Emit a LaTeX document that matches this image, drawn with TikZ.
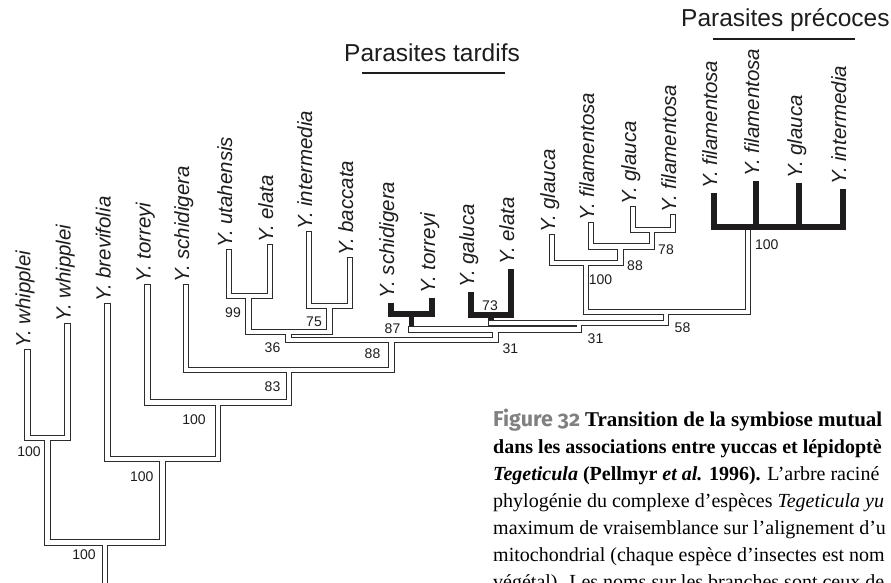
\documentclass[tikz,border=0pt]{standalone}
\usepackage{fontspec}
\setmainfont{Liberation Serif}
\newfontfamily\lsans{Liberation Sans}
\newfontfamily\figfont{Fira Sans}[Numbers=OldStyle]
\usetikzlibrary{calc}
\definecolor{ink}{RGB}{30,28,28}
\definecolor{treeink}{RGB}{45,43,43}
\definecolor{figgray}{RGB}{128,128,128}
\begin{document}
\begin{tikzpicture}[x=1pt,y=-1pt,
  br/.style={draw=treeink, line width=1.05pt, double=white, double distance=4.2pt, line cap=rect, line join=miter},
  blk/.style={draw=ink, line width=5.5pt, line cap=butt, line join=miter},
  leaf/.style={rotate=90, anchor=base west, inner sep=0pt, text=ink, font=\lsans\itshape\fontsize{20.5}{24}\selectfont},
  bs/.style={inner sep=0pt, text=ink, font=\lsans\fontsize{14}{16}\selectfont},
  head/.style={anchor=base west, inner sep=0pt, text=ink, font=\lsans\fontsize{24.5}{28}\selectfont},
  capline/.style={anchor=base west, inner sep=0pt, text=black, font=\fontsize{20}{27}\selectfont}
]
\useasboundingbox (0,0) rectangle (891,583);
\clip (0,0) rectangle (891,583);
% leaves (tips)
\coordinate (l1) at (27.5,352);
\coordinate (l2) at (67.5,326);
\coordinate (l3) at (107.5,306);
\coordinate (l4) at (147.5,287);
\coordinate (l5) at (186,287);
\coordinate (l6) at (229,252);
\coordinate (l7) at (270,247);
\coordinate (l8) at (309,234);
\coordinate (l9) at (350,260);
\coordinate (l10) at (391,302.5);
\coordinate (l11) at (432,297.5);
\coordinate (l12) at (471,292);
\coordinate (l13) at (511,269);
\coordinate (l14) at (552,237);
\coordinate (l15) at (591,225);
\coordinate (l16) at (633,209);
\coordinate (l17) at (673,217);
\coordinate (l18) at (714,193);
\coordinate (l19) at (756,181);
\coordinate (l20) at (799,183);
\coordinate (l21) at (843,189);
% internal nodes (stub x, bar y)
\coordinate (nW) at (47.5,438);
\coordinate (nR) at (105,542.5);
\coordinate (nB) at (162.5,459);
\coordinate (nT) at (218,402.5);
\coordinate (n83) at (289,370);
\coordinate (n88) at (391.5,340);
\coordinate (n36) at (288.5,332);
\coordinate (n99) at (248.5,296);
\coordinate (n75) at (329.5,306);
\coordinate (n87) at (411.5,314);
\coordinate (n31a) at (495.5,329.5);
\coordinate (n73) at (491,315);
\coordinate (n31b) at (579,323);
\coordinate (n58) at (666,312);
\coordinate (nG) at (586,263);
\coordinate (n88g) at (620.5,246.5);
\coordinate (n78) at (652,230);
\coordinate (nK) at (748,228);
\coordinate (rootend) at (105,600);
% hollow branches
\draw[br]
  (l1) |- (nW) -| (l2)
  (nW) |- (nR) -| (nB)
  (nR) -- (rootend)
  (l3) |- (nB) -| (nT)
  (l4) |- (nT) -| (n83)
  (l5) |- (n83) -| (n88)
  (n36) |- (n88) -| (n31a)
  (l6) |- (n99) -| (l7)
  (n99) |- (n36) -| (n75)
  (l8) |- (n75) -| (l9)
  (n87 |- n31a) -| (n31b)
  (n73 |- n31b) -| (n58)
  (nG) |- (n58) -| (nK)
  (l14) |- (nG) -| (n88g)
  (l15) |- (n88g) -| (n78)
  (l16) |- (n78) -| (l17);
% solid (parasitic) branches
\draw[blk] (l10) |- (n87) -| (l11);
\draw[blk] (n87) -- ($(n87 |- n31a)+(0,-3.1)$);
\draw[blk] (l12) |- (n73) -| (l13);
\draw[blk] (n73) -- ($(n73 |- n31b)+(0,-3.1)$);
\draw[blk] (l18) |- ($(nK)+(0,-1)$) -| (l21);
\draw[blk] (l19) -- ($(l19 |- nK)+(0,-1)$);
\draw[blk] (l20) -- ($(l20 |- nK)+(0,-1)$);
% tip labels
\node[leaf] (t1) at ($(l1)+(3,-4)$) {Y. whipplei};
\node[leaf] (t2) at ($(l2)+(3,-4)$) {Y. whipplei};
\node[leaf] (t3) at ($(l3)+(3,-4)$) {Y. brevifolia};
\node[leaf] (t4) at ($(l4)+(3,-4)$) {Y. torreyi};
\node[leaf] (t5) at ($(l5)+(3,-4)$) {Y. schidigera};
\node[leaf] (t6) at ($(l6)+(3,-4)$) {Y. utahensis};
\node[leaf] (t7) at ($(l7)+(3,-4)$) {Y. elata};
\node[leaf] (t8) at ($(l8)+(3,-4)$) {Y. intermedia};
\node[leaf] (t9) at ($(l9)+(3,-4)$) {Y. baccata};
\node[leaf] (t10) at ($(l10)+(3,-4)$) {Y. schidigera};
\node[leaf] (t11) at ($(l11)+(3,-4)$) {Y. torreyi};
\node[leaf] (t12) at ($(l12)+(3,-4)$) {Y. galuca};
\node[leaf] (t13) at ($(l13)+(3,-4)$) {Y. elata};
\node[leaf] (t14) at ($(l14)+(3,-4)$) {Y. glauca};
\node[leaf] (t15) at ($(l15)+(3,-4)$) {Y. filamentosa};
\node[leaf] (t16) at ($(l16)+(3,-4)$) {Y. glauca};
\node[leaf] (t17) at ($(l17)+(3,-4)$) {Y. filamentosa};
\node[leaf] (t18) at ($(l18)+(3,-4)$) {Y. filamentosa};
\node[leaf] (t19) at ($(l19)+(3,-4)$) {Y. filamentosa};
\node[leaf] (t20) at ($(l20)+(3,-4)$) {Y. glauca};
\node[leaf] (t21) at ($(l21)+(3,-4)$) {Y. intermedia};
% support values
\node[bs] (sW) at (29,452) {100};
\node[bs] (sB) at (141.7,476.7) {100};
\node[bs] (sT) at (194,420) {100};
\node[bs] (sR) at (84,555) {100};
\node[bs] (s83) at (272.5,387) {83};
\node[bs] (s99) at (233,313) {99};
\node[bs] (s36) at (272.5,348) {36};
\node[bs] (s75) at (314,321.7) {75};
\node[bs] (s88) at (372.5,354) {88};
\node[bs] (s87) at (392.5,329) {87};
\node[bs] (s73) at (490,305.7) {73};
\node[bs] (s31a) at (510.3,348.3) {31};
\node[bs] (s31b) at (595.5,338.3) {31};
\node[bs] (s58) at (682.5,328) {58};
\node[bs] (sG) at (600.5,279.5) {100};
\node[bs] (s88g) at (635,266) {88};
\node[bs] (s78) at (666,250) {78};
\node[bs] (sK) at (766.7,244.7) {100};
% group headings
\node[head] (h1) at (344,62) {Parasites tardifs};
\draw[ink, line width=2pt] (362,72.7) -- (505,72.7);
\node[head] (h2) at (681,26.5) {Parasites précoces};
\draw[ink, line width=2pt] (713,39.3) -- (855,39.3);
% caption
\node[capline] (c1) at (493,426) {{\figfont\bfseries\fontsize{21.5}{27}\selectfont\color{figgray}Figure 32} {\fontsize{21}{27}\selectfont\bfseries Transition de la symbiose mutual}};
\node[capline] (c2) at (493,453) {\textbf{dans les associations entre yuccas et lépidoptè}};
\node[capline] (c3) at (493,480) {\textbf{\textit{Tegeticula} (Pellmyr \textit{et al.} 1996).} L’arbre raciné};
\node[capline] (c4) at (493,507) {phylogénie du complexe d’espèces \textit{Tegeticula yu}};
\node[capline] (c5) at (493,534) {maximum de vraisemblance sur l’alignement d’u};
\node[capline] (c6) at (493,561) {mitochondrial (chaque espèce d’insectes est nom};
\node[capline] (c7) at (493,588) {végétal). Les noms sur les branches sont ceux de};
\end{tikzpicture}
\end{document}
